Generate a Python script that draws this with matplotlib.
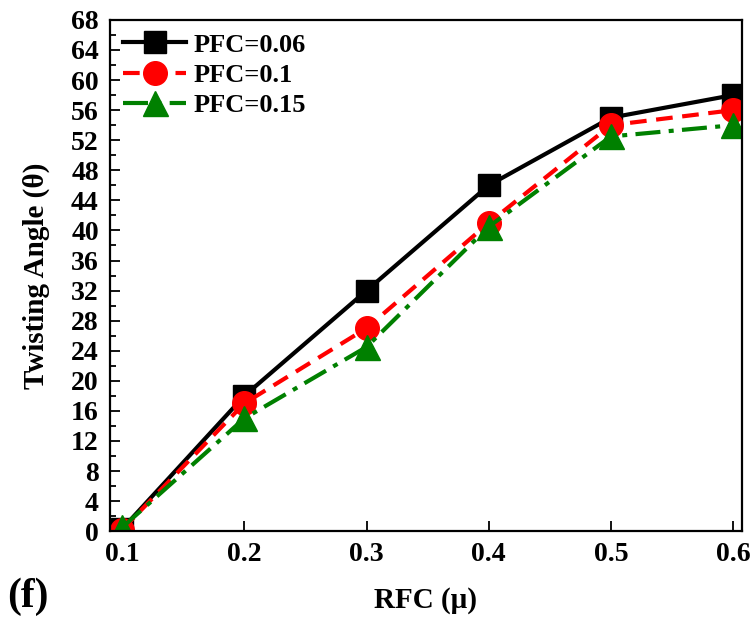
import matplotlib
matplotlib.use("Agg")
import matplotlib.pyplot as plt
from matplotlib.ticker import MultipleLocator

plt.rcParams['font.family'] = ['Liberation Serif', 'DejaVu Serif']
plt.rcParams['font.weight'] = 'bold'

rfc = [0.1, 0.2, 0.3, 0.4, 0.5, 0.6]
pfc_006 = [0.3, 18, 32, 46, 55, 58]
pfc_010 = [0.2, 17, 27, 41, 54, 56]
pfc_015 = [0.5, 15, 24.5, 40.5, 52.5, 54]
labels = ['PFC=0.06', 'PFC=0.1', 'PFC=0.15']
x_ticks = [0.1, 0.2, 0.3, 0.4, 0.5, 0.6]

fig = plt.figure(figsize=(7.53, 6.22), dpi=100)
ax = fig.add_axes([0.146, 0.146, 0.839, 0.822])

ax.plot(rfc, pfc_006, color='black', ls='-', lw=3, marker='s', ms=16, label=labels[0])
ax.plot(rfc, pfc_010, color='red', ls=(0, (4, 2.3)), lw=3, marker='o', ms=17, label=labels[1])
ax.plot(rfc, pfc_015, color='green', ls=(0, (6, 2, 1.2, 2)), lw=3, marker='^', ms=18, label=labels[2])

ax.set_xlim(0.09, 0.607)
ax.set_ylim(0, 68)
ax.set_xticks(x_ticks)
ax.set_xticklabels([f'{v:.1f}' for v in x_ticks])
ax.yaxis.set_major_locator(MultipleLocator(4))
ax.yaxis.set_minor_locator(MultipleLocator(2))
ax.tick_params(axis='both', which='both', direction='in', labelsize=20)
ax.tick_params(axis='both', which='major', length=7, width=1.3)
ax.tick_params(axis='y', which='minor', length=4, width=1.3)
ax.tick_params(axis='x', which='major', pad=8)
ax.tick_params(axis='y', which='major', pad=8)
for lbl in ax.get_xticklabels() + ax.get_yticklabels():
    lbl.set_fontweight('bold')
for sp in ax.spines.values():
    sp.set_linewidth(1.6)

ax.set_xlabel('RFC (μ)', fontsize=21, fontweight='bold', labelpad=14)
ax.set_ylabel('Twisting Angle (θ)', fontsize=21, fontweight='bold', labelpad=15)

leg = ax.legend(loc='upper left', frameon=False, fontsize=19, handlelength=2.4,
                borderaxespad=0.1, labelspacing=0.26, handletextpad=0.25,
                bbox_to_anchor=(0.0, 1.0))

fig.text(0.01, 0.024, '(f)', fontsize=30, fontweight='bold')

fig.savefig('out.png', dpi=100)
